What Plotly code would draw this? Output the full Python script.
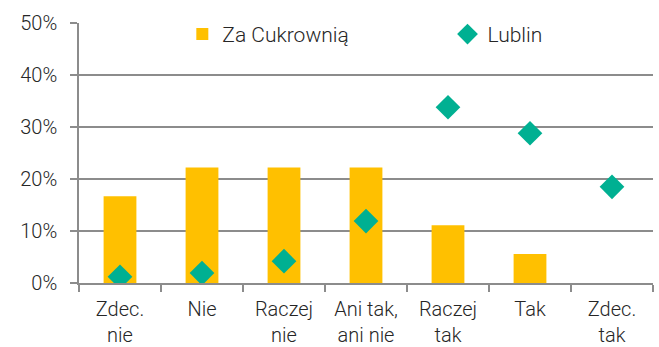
import plotly.graph_objects as go

categories = ["Zdec.<br>nie", "Nie", "Raczej<br>nie", "Ani tak,<br>ani nie", "Raczej<br>tak", "Tak", "Zdec.<br>tak"]
za_cukrownia = [16.7, 22.2, 22.2, 22.2, 11.1, 5.6, 0.0]
lublin = [1.2, 1.9, 4.2, 11.9, 33.8, 28.8, 18.5]
y_ticks = [0, 10, 20, 30, 40, 50]

FONT = "Roboto, sans-serif"
TEXT = "#262626"
GRID = "#8c8c8c"
tick_font = dict(family=FONT, size=20, color=TEXT, weight=300)

fig = go.Figure()
fig.add_trace(go.Bar(
    x=categories, y=za_cukrownia, name="Za Cukrownią", legend="legend",
    marker=dict(color="#FFC000", line=dict(width=0)), width=0.4,
))
fig.add_trace(go.Scatter(
    x=categories, y=lublin, name="Lublin", mode="markers", legend="legend2",
    marker=dict(symbol="diamond", size=19, color="#00B092", line=dict(width=0)),
))

legend_common = dict(
    orientation="h", xanchor="left", yanchor="top",
    itemwidth=30, bgcolor="rgba(0,0,0,0)",
    font=dict(family=FONT, size=21, color=TEXT, weight=300),
)

fig.update_layout(
    width=659, height=347,
    margin=dict(l=79, r=6, t=23, b=64, autoexpand=False),
    paper_bgcolor="white", plot_bgcolor="white",
    font=tick_font,
    showlegend=True,
    legend=dict(x=0.180, y=1.035, **legend_common),
    legend2=dict(x=0.642, y=1.035, **legend_common),
    bargap=0.6,
)
fig.update_xaxes(
    type="category", showline=True, linecolor=GRID, linewidth=1.5,
    ticks="outside", tickson="boundaries", ticklen=7, tickcolor=GRID, tickwidth=1.5,
    showgrid=False, ticklabelstandoff=7, tickangle=0, tickfont=tick_font,
)
fig.update_yaxes(
    range=[0, 50], tickvals=y_ticks, ticktext=[f"{v}%" for v in y_ticks],
    showline=True, linecolor=GRID, linewidth=1.5,
    ticks="outside", ticklen=7, tickcolor=GRID, tickwidth=1.5,
    showgrid=True, gridcolor=GRID, gridwidth=1.5, zeroline=False,
    ticklabelstandoff=9, tickfont=tick_font,
)

fig.write_html("out.html")
